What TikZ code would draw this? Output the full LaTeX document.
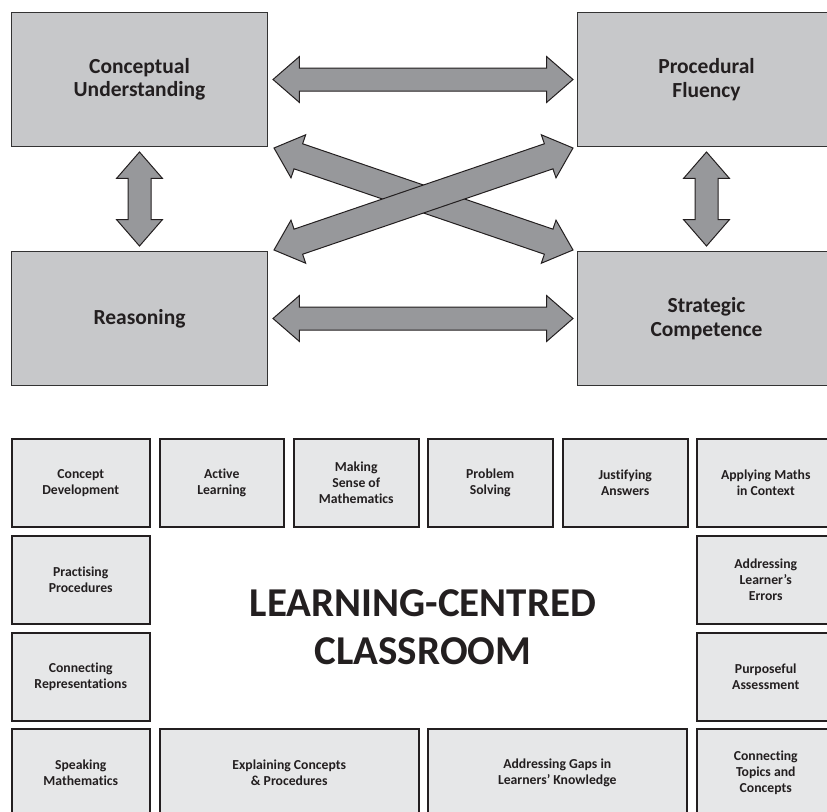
\documentclass[tikz,border=0pt]{standalone}
\usepackage{fontspec}
\setmainfont{Carlito}[Ligatures={TeX,NoCommon}]
\usetikzlibrary{shapes.arrows,calc}
\definecolor{bigfill}{HTML}{C7C8CA}
\definecolor{arrowfill}{HTML}{97989B}
\definecolor{smallfill}{HTML}{E6E7E8}
\definecolor{edge}{HTML}{333333}
\definecolor{ink}{HTML}{231F20}
\newcommand{\dblconn}[3][]{%
  \path let \p1=#2, \p2=#3, \n1={veclen(\x2-\x1,\y2-\y1)} in
    (\p1) -- node[dblarrow, #1, minimum height=\n1] {} (\p2);}
\begin{document}
\begin{tikzpicture}[x=1pt,y=-1pt,
  bigbox/.style={draw=edge, fill=bigfill, line width=1pt, anchor=north west,
    minimum height=134pt, inner sep=0pt, align=center,
    font=\fontsize{21.5}{23.5}\selectfont\bfseries, text=ink},
  smallbox/.style={draw=ink, fill=smallfill, line width=1.5pt, anchor=north west,
    minimum height=88pt, inner sep=0pt, align=center,
    font=\fontsize{13.7}{16}\selectfont\bfseries, text=ink},
  dblarrow/.style={double arrow, draw=ink, fill=arrowfill, line width=1pt,
    inner xsep=0pt, inner ysep=11pt, double arrow head extend=11.5pt,
    double arrow tip angle=82, sloped, allow upside down},
  diagarrow/.style={inner ysep=12.75pt, double arrow head extend=9.5pt,
    double arrow tip angle=83},
  titletext/.style={align=center, text=ink,
    font=\fontsize{41}{48}\selectfont\bfseries},
]
\useasboundingbox (0,0) rectangle (827,811);
\clip (0,0) rectangle (827,811);

% big boxes
\node[bigbox, minimum width=256pt] (cu) at (11,12) {Conceptual\\Understanding};
\node[bigbox, minimum width=258pt] (pf) at (577,12) {Procedural\\Fluency};
\node[bigbox, minimum width=256pt] (rs) at (11,251) {Reasoning};
\node[bigbox, minimum width=258pt] (sc) at (577,251) {Strategic\\Competence};

% double arrows between the big boxes
\dblconn{([xshift=5pt]cu.east)}{([xshift=-4pt]pf.west)}
\dblconn{([xshift=5pt]rs.east)}{([xshift=-4pt]sc.west)}
\dblconn{([yshift=-5pt]cu.south)}{([yshift=5pt]rs.north)}
\dblconn{([yshift=-5pt]pf.south)}{([yshift=5pt]sc.north)}
\dblconn[diagarrow]{([xshift=6pt,yshift=-1pt]cu.south east)}{([xshift=-4pt,yshift=1pt]sc.north west)}
\dblconn[diagarrow]{([xshift=6pt,yshift=1pt]rs.north east)}{([xshift=-4pt,yshift=-1pt]pf.south west)}

% small boxes
\node[smallbox, minimum width=138pt] (s1) at (11,438) {Concept\\Development};
\node[smallbox, minimum width=124pt] (s2) at (159,438) {Active\\Learning};
\node[smallbox, minimum width=125pt] (s3) at (293,438) {Making\\Sense of\\Mathematics};
\node[smallbox, minimum width=125pt] (s4) at (427,438) {Problem\\Solving};
\node[smallbox, minimum width=125pt] (s5) at (562,438) {Justifying\\Answers};
\node[smallbox, minimum width=138pt] (s6) at (696,438) {Applying Maths\\in Context};
\node[smallbox, minimum width=138pt] (s7) at (11,535) {Practising\\Procedures};
\node[smallbox, minimum width=138pt] (s8) at (696,535) {Addressing\\Learner’s\\Errors};
\node[smallbox, minimum width=138pt] (s9) at (11,632) {Connecting\\Representations};
\node[smallbox, minimum width=138pt] (s10) at (696,632) {Purposeful\\Assessment};
\node[smallbox, minimum width=138pt] (s11) at (11,728) {Speaking\\Mathematics};
\node[smallbox, minimum width=259pt] (s12) at (159,728) {Explaining Concepts\\\& Procedures};
\node[smallbox, minimum width=259pt] (s13) at (427,728) {Addressing Gaps in\\Learners’ Knowledge};
\node[smallbox, minimum width=138pt] (s14) at (696,728) {Connecting\\Topics and\\Concepts};

% centre title
\node[titletext] (title) at (423,627) {LEARNING-CENTRED\\CLASSROOM};
\end{tikzpicture}
\end{document}
